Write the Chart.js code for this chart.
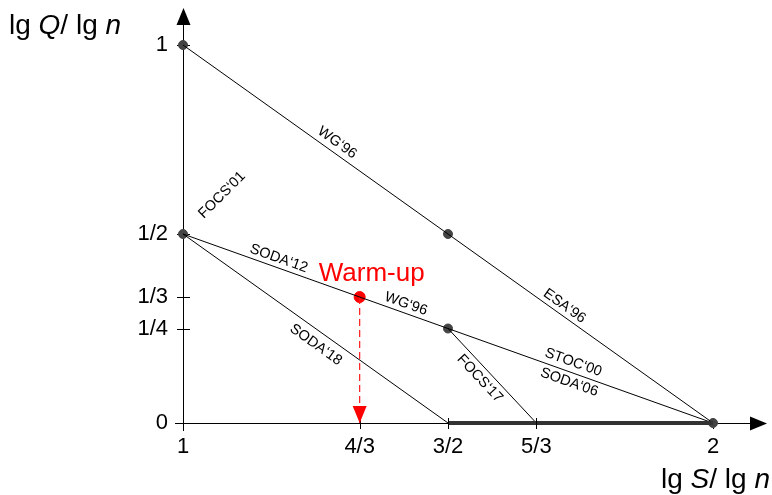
<!DOCTYPE html>
<html>
<head>
<meta charset="utf-8">
<script src="https://cdn.jsdelivr.net/npm/chart.js@4.4.1/dist/chart.umd.min.js"></script>
<style>
  html, body { margin: 0; padding: 0; background: #fff; }
  #chart { display: block; }
</style>
</head>
<body>
<canvas id="chart" width="772" height="495"></canvas>
<script>
// ---------------------------------------------------------
// data
// ---------------------------------------------------------
const xTicks = [1, 4 / 3, 3 / 2, 5 / 3, 2];
const xTickLabels = ['1', '4/3', '3/2', '5/3', '2'];
const yTicks = [0, 1 / 4, 1 / 3, 1 / 2, 1];
const yTickLabels = ['0', '1/4', '1/3', '1/2', '1'];

// trade-off curves (lg S / lg n , lg Q / lg n)
const wg96Line = [{ x: 1, y: 1 }, { x: 2, y: 0 }];
const soda12Line = [{ x: 1, y: 1 / 2 }, { x: 3 / 2, y: 1 / 4 }, { x: 2, y: 0 }];
const soda18Line = [{ x: 1, y: 1 / 2 }, { x: 3 / 2, y: 0 }];
const focs17Line = [{ x: 3 / 2, y: 1 / 4 }, { x: 5 / 3, y: 0 }];
const zeroSegment = [{ x: 3 / 2, y: 0 }, { x: 2, y: 0 }];
const knownPoints = [
    { x: 1, y: 1 }, { x: 1, y: 1 / 2 }, { x: 3 / 2, y: 1 / 2 },
    { x: 3 / 2, y: 1 / 4 }, { x: 2, y: 0 }
];
const warmUpPoint = [{ x: 4 / 3, y: 1 / 3 }];
const warmUpDrop = [{ x: 4 / 3, y: 1 / 3 }, { x: 4 / 3, y: 0 }];

// labels along segments: segment ends, fraction along it, offset (px, + = upper side)
const segmentLabels = [
    { text: 'WG‘96',   from: [1, 1],     to: [2, 0],     t: 0.28, off: 10 },
    { text: 'ESA‘96',  from: [1, 1],     to: [2, 0],     t: 0.71, off: 9 },
    { text: 'SODA‘12', from: [1, 0.5],   to: [1.5, 0.25], t: 0.35, off: 9 },
    { text: 'WG‘96',   from: [1, 0.5],   to: [1.5, 0.25], t: 0.83, off: 9 },
    { text: 'STOC‘00', from: [1.5, 0.25], to: [2, 0],    t: 0.46, off: 10 },
    { text: 'SODA‘06', from: [1.5, 0.25], to: [2, 0],    t: 0.47, off: -10 },
    { text: 'SODA‘18', from: [1, 0.5],   to: [1.5, 0],   t: 0.53, off: -13 },
    { text: 'FOCS‘17', from: [1.5, 0.25], to: [5 / 3, 0], t: 0.45, off: -11 }
];

const FONT = "'Liberation Sans', Arial, Helvetica, sans-serif";

// ---------------------------------------------------------
// helpers
// ---------------------------------------------------------
function arrowHead(ctx, tipX, tipY, dirX, dirY, len, half) {
    const bx = tipX - dirX * len, by = tipY - dirY * len;
    ctx.beginPath();
    ctx.moveTo(tipX, tipY);
    ctx.lineTo(bx - dirY * half, by + dirX * half);
    ctx.lineTo(bx + dirY * half, by - dirX * half);
    ctx.closePath();
    ctx.fill();
}

// text made of [string, italic] parts
function drawMixed(ctx, parts, x, y, size, align) {
    let total = 0;
    parts.forEach(p => {
        ctx.font = (p[1] ? 'italic ' : '') + size + 'px ' + FONT;
        total += ctx.measureText(p[0]).width;
    });
    let cx = align === 'right' ? x - total : x;
    ctx.textAlign = 'left';
    ctx.textBaseline = 'alphabetic';
    parts.forEach(p => {
        ctx.font = (p[1] ? 'italic ' : '') + size + 'px ' + FONT;
        ctx.fillText(p[0], cx, y);
        cx += ctx.measureText(p[0]).width;
    });
}

// ---------------------------------------------------------
// plugins
// ---------------------------------------------------------
const axesPlugin = {
    id: 'axesPlugin',
    beforeDatasetsDraw(chart) {
        const { ctx, scales: { x, y } } = chart;
        const x0 = x.getPixelForValue(1);
        const y0 = y.getPixelForValue(0);
        ctx.save();
        ctx.strokeStyle = '#000';
        ctx.fillStyle = '#000';
        ctx.lineWidth = 1;

        // x axis
        ctx.beginPath();
        ctx.moveTo(x0 - 8, y0 + 0.5);
        ctx.lineTo(752, y0 + 0.5);
        ctx.stroke();
        arrowHead(ctx, 767, y0 + 0.5, 1, 0, 17, 7);

        // y axis
        ctx.beginPath();
        ctx.moveTo(x0 + 0.5, y0 + 8);
        ctx.lineTo(x0 + 0.5, 22);
        ctx.stroke();
        arrowHead(ctx, x0 + 0.5, 8, 0, -1, 17, 7);

        // tick marks
        ctx.beginPath();
        xTicks.forEach(v => {
            const px = Math.round(x.getPixelForValue(v)) + 0.5;
            ctx.moveTo(px, y0 - 5);
            ctx.lineTo(px, y0 + 6);
        });
        yTicks.forEach(v => {
            const py = Math.round(y.getPixelForValue(v)) + 0.5;
            ctx.moveTo(x0 - 6, py);
            ctx.lineTo(x0 + 7, py);
        });
        ctx.stroke();
        ctx.restore();
    },
    afterDatasetsDraw(chart) {
        const { ctx, scales: { x, y } } = chart;
        const x0 = x.getPixelForValue(1);
        const y0 = y.getPixelForValue(0);
        ctx.save();

        // tick marks back over the bold segment
        ctx.strokeStyle = '#000';
        ctx.lineWidth = 1;
        ctx.beginPath();
        [3 / 2, 5 / 3].forEach(v => {
            const px = Math.round(x.getPixelForValue(v)) + 0.5;
            ctx.moveTo(px, y0 - 5);
            ctx.lineTo(px, y0 + 6);
        });
        ctx.stroke();

        // red arrow head at the end of the warm-up drop
        const end = warmUpDrop[warmUpDrop.length - 1];
        ctx.fillStyle = '#ff0000';
        arrowHead(ctx, x.getPixelForValue(end.x), y.getPixelForValue(end.y), 0, 1, 17, 7);

        // segment labels
        ctx.fillStyle = '#000';
        ctx.font = '14.5px ' + FONT;
        ctx.textAlign = 'center';
        ctx.textBaseline = 'middle';
        segmentLabels.forEach(l => {
            const ax = x.getPixelForValue(l.from[0]), ay = y.getPixelForValue(l.from[1]);
            const bx = x.getPixelForValue(l.to[0]), by = y.getPixelForValue(l.to[1]);
            const len = Math.hypot(bx - ax, by - ay);
            const ux = (bx - ax) / len, uy = (by - ay) / len;
            const nx = uy, ny = -ux; // upper side normal
            const cx = ax + ux * len * l.t + nx * l.off;
            const cy = ay + uy * len * l.t + ny * l.off;
            ctx.save();
            ctx.translate(cx, cy);
            ctx.rotate(Math.atan2(by - ay, bx - ax));
            ctx.fillText(l.text, 0, 0);
            ctx.restore();
        });

        // FOCS'01 next to (1, 1/2)
        ctx.save();
        ctx.translate(x0 + 39, y.getPixelForValue(0.5) - 39);
        ctx.rotate(-Math.PI / 4);
        ctx.fillText('FOCS‘01', 0, 0);
        ctx.restore();

        // Warm-up label
        const w = warmUpPoint[0];
        ctx.fillStyle = '#ff0000';
        ctx.font = '26px ' + FONT;
        ctx.textAlign = 'center';
        ctx.textBaseline = 'alphabetic';
        ctx.fillText('Warm-up', x.getPixelForValue(w.x) + 12, y.getPixelForValue(w.y) - 16);

        // axis titles
        ctx.fillStyle = '#000';
        drawMixed(ctx, [['lg ', false], ['Q', true], ['/ lg ', false], ['n', true]], 9, 34, 28, 'left');
        drawMixed(ctx, [['lg ', false], ['S', true], ['/ lg ', false], ['n', true]], 770, 488, 28, 'right');
        ctx.restore();
    }
};

// ---------------------------------------------------------
// chart
// ---------------------------------------------------------
const lineStyle = {
    type: 'scatter',
    showLine: true,
    borderColor: '#000',
    borderWidth: 1,
    pointRadius: 0,
    clip: false
};

new Chart(document.getElementById('chart'), {
    type: 'scatter',
    data: {
        datasets: [
            { ...lineStyle, data: zeroSegment, borderColor: '#333', borderWidth: 4 },
            { ...lineStyle, data: zeroSegment, borderColor: '#8c8c8c', borderWidth: 2 },
            { ...lineStyle, data: wg96Line },
            { ...lineStyle, data: soda12Line },
            { ...lineStyle, data: soda18Line },
            { ...lineStyle, data: focs17Line },
            { ...lineStyle, data: warmUpDrop, borderColor: '#ff1a1a', borderWidth: 1.2, borderDash: [7, 4] },
            {
                type: 'scatter', data: knownPoints, pointRadius: 4.5,
                backgroundColor: '#444', borderColor: '#444', clip: false
            },
            {
                type: 'scatter', data: warmUpPoint, pointRadius: 5.5,
                backgroundColor: '#ff0000', borderColor: '#ff0000', clip: false
            }
        ]
    },
    options: {
        responsive: false,
        animation: false,
        devicePixelRatio: 1,
        layout: { padding: { left: 123, right: 59, top: 45, bottom: 32 } },
        plugins: { legend: { display: false }, tooltip: { enabled: false } },
        scales: {
            x: {
                type: 'linear', min: 1, max: 2,
                grid: { display: false, drawTicks: false },
                border: { display: false },
                afterBuildTicks: s => { s.ticks = xTicks.map(v => ({ value: v })); },
                afterFit: s => { s.height = 40; },
                ticks: {
                    autoSkip: false, maxRotation: 0, padding: 11, color: '#000',
                    font: { family: FONT, size: 22 },
                    callback: (v, i) => xTickLabels[i]
                }
            },
            y: {
                type: 'linear', min: 0, max: 1,
                grid: { display: false, drawTicks: false },
                border: { display: false },
                afterBuildTicks: s => { s.ticks = yTicks.map(v => ({ value: v })); },
                afterFit: s => { s.width = 60; },
                ticks: {
                    autoSkip: false, padding: 15, color: '#000',
                    font: { family: FONT, size: 22 },
                    callback: (v, i) => yTickLabels[i]
                }
            }
        }
    },
    plugins: [axesPlugin]
});
</script>
</body>
</html>
